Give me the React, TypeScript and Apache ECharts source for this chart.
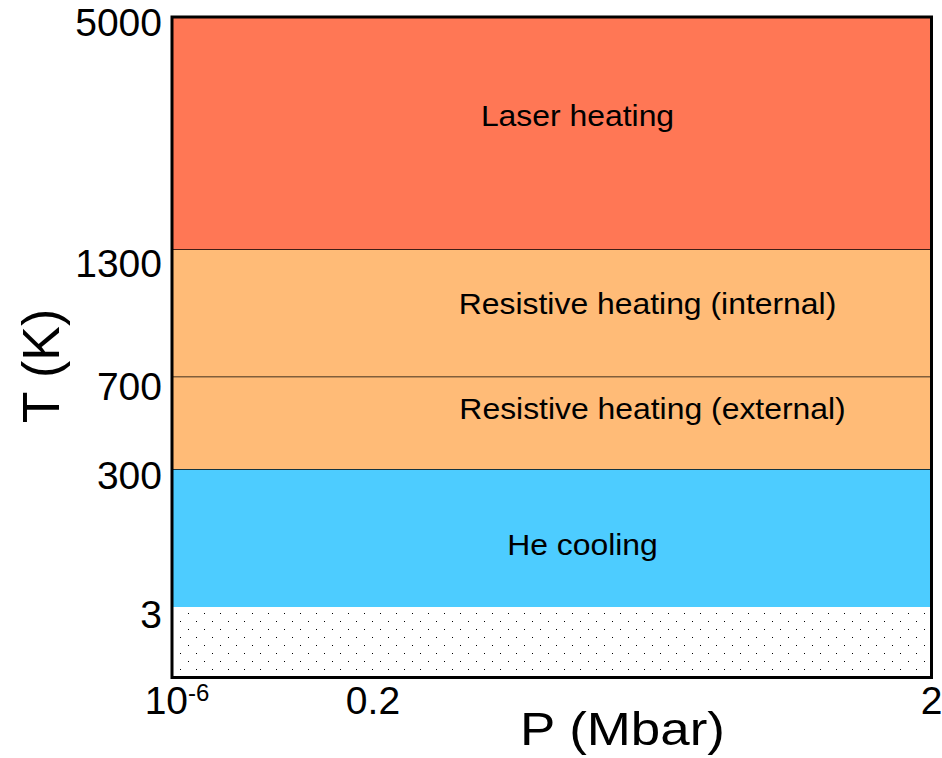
import React, { useEffect, useRef } from 'react';
import * as echarts from 'echarts';

// ---- Data -------------------------------------------------------------
// Temperature axis is schematic (not to scale): tick labels in K and where each sits on the axis (0–100)
const tempTickLabels = ['3', '300', '700', '1300', '5000'];
const tempTickK = [3, 300, 700, 1300, 5000];
const tempTickAxisPos = [10.67, 31.57, 45.57, 64.83, 100];

// Pressure axis is schematic too
const pressureTickLabels = ['10^-6', '0.2', '2'];
const pressureTickAxisPos = [0, 26.46, 100];

// Temperature regimes (K)
const regimeNames = ['', 'He cooling', 'Resistive heating (external)', 'Resistive heating (internal)', 'Laser heating'];
const regimeFromK = [0, 3, 300, 700, 1300];
const regimeToK = [3, 300, 700, 1300, 5000];

// ---- Styles / layout --------------------------------------------------
const regimeColors = ['dots', '#4DCCFF', '#FFBB77', '#FFBB77', '#FF7755'];
const regimeTopLine = [false, true, true, true, false];
const regimeLabelAt = [
  [0, 0],
  [54.05, 20.06],
  [63.27, 40.68],
  [62.61, 56.65],
  [53.39, 85.04],
];
const yLabelShift = [7, 7, 9.5, 14, 5.5];
const FONT = '"Liberation Sans", Arial, sans-serif';

const kToPos = (k: number) => (k === 0 ? 0 : tempTickAxisPos[tempTickK.indexOf(k)]);
const findIdx = (arr: number[], v: number) => arr.findIndex((a) => Math.abs(a - v) < 0.001);

export default function App() {
  const ref = useRef<HTMLDivElement>(null);

  useEffect(() => {
    if (!ref.current) return;
    const chart = echarts.init(ref.current, null, { renderer: 'svg' });

    const tile = document.createElement('canvas');
    tile.width = 16;
    tile.height = 16;
    const ctx = tile.getContext('2d')!;
    ctx.fillStyle = '#ffffff';
    ctx.fillRect(0, 0, 16, 16);
    ctx.fillStyle = '#000000';
    ctx.fillRect(12, 5, 1, 1);
    ctx.fillRect(4, 13, 1, 1);
    const dotFill: any = { image: tile, repeat: 'repeat' };

    const xMin = pressureTickAxisPos[0];
    const xMax = pressureTickAxisPos[pressureTickAxisPos.length - 1];
    const bandData = regimeNames.map((_, i) => [xMin, xMax, kToPos(regimeFromK[i]), kToPos(regimeToK[i]), i]);

    const yRich: any = {};
    tempTickLabels.forEach((_, i) => {
      yRich['l' + i] = {
        fontSize: 39,
        lineHeight: 39,
        fontFamily: FONT,
        color: '#000',
        padding: [yLabelShift[i] * 2, 0, 0, 0],
      };
    });

    const option: any = {
      animation: false,
      backgroundColor: '#ffffff',
      textStyle: { fontFamily: FONT },
      grid: {
        show: true,
        z: 10,
        left: 172,
        right: 10.5,
        top: 17,
        bottom: 80.5,
        containLabel: false,
        outerBoundsMode: 'none',
        borderColor: '#000',
        borderWidth: 3,
        backgroundColor: 'rgba(0,0,0,0)',
      },
      xAxis: {
        type: 'value',
        min: 0,
        max: 100,
        axisLine: { show: false },
        axisTick: { show: false },
        splitLine: { show: false },
        axisLabel: {
          customValues: pressureTickAxisPos,
          margin: 3,
          color: '#000',
          fontSize: 39,
          fontFamily: FONT,
          formatter: (v: number) => {
            const i = findIdx(pressureTickAxisPos, v);
            if (i < 0) return '';
            const lab = pressureTickLabels[i];
            if (lab.includes('^')) {
              const [b, e] = lab.split('^');
              return `{b|${b}}{s|${e}}`;
            }
            return `{n|${lab}}`;
          },
          rich: {
            n: { fontSize: 39, lineHeight: 39, fontFamily: FONT, color: '#000' },
            b: { fontSize: 39, lineHeight: 39, fontFamily: FONT, color: '#000', padding: [0, 0, 0, 10] },
            s: { fontSize: 24, lineHeight: 30, fontFamily: FONT, color: '#000', verticalAlign: 'top' },
          },
        },
      },
      yAxis: {
        type: 'value',
        min: 0,
        max: 100,
        axisLine: { show: false },
        axisTick: { show: false },
        splitLine: { show: false },
        axisLabel: {
          customValues: tempTickAxisPos,
          margin: 10,
          color: '#000',
          fontSize: 39,
          fontFamily: FONT,
          formatter: (v: number) => {
            const i = findIdx(tempTickAxisPos, v);
            if (i < 0) return '';
            return `{l${i}|${tempTickLabels[i]}}`;
          },
          rich: yRich,
        },
      },
      graphic: [
        {
          type: 'text',
          x: 41,
          y: 366,
          rotation: Math.PI / 2,
          style: {
            text: 'T (K)',
            font: `52px ${FONT}`,
            fill: '#000',
            align: 'center',
            verticalAlign: 'middle',
            textAlign: 'center',
            textVerticalAlign: 'middle',
          },
        },
        {
          type: 'text',
          x: 622.5,
          y: 729,
          scaleX: 1.15,
          style: {
            text: 'P (Mbar)',
            font: `46px ${FONT}`,
            fill: '#000',
            align: 'center',
            verticalAlign: 'middle',
            textAlign: 'center',
            textVerticalAlign: 'middle',
          },
        },
      ],
      series: [
        {
          type: 'custom',
          encode: { x: [0, 1], y: [2, 3] },
          data: bandData,
          renderItem: (params: any, api: any) => {
            const i = api.value(4);
            const tl = api.coord([api.value(0), api.value(3)]);
            const br = api.coord([api.value(1), api.value(2)]);
            const color = regimeColors[i];
            const children: any[] = [
              {
                type: 'rect',
                shape: { x: tl[0], y: tl[1], width: br[0] - tl[0], height: br[1] - tl[1] },
                style: { fill: color === 'dots' ? dotFill : color },
              },
            ];
            if (regimeTopLine[i]) {
              children.push({
                type: 'line',
                shape: { x1: tl[0], y1: tl[1], x2: br[0], y2: tl[1] },
                style: { stroke: '#000', lineWidth: 1.6 },
              });
            }
            const name = regimeNames[i];
            if (name) {
              const c = api.coord(regimeLabelAt[i]);
              children.push({
                type: 'text',
                x: c[0],
                y: c[1],
                scaleX: 1.1,
                style: {
                  text: name,
                  font: `29px ${FONT}`,
                  fill: '#000',
                  align: 'center',
                  verticalAlign: 'middle',
                  textAlign: 'center',
                  textVerticalAlign: 'middle',
                },
              });
            }
            return { type: 'group', children };
          },
        },
      ],
    };

    chart.setOption(option);
    return () => chart.dispose();
  }, []);

  return (
    <div
      ref={ref}
      style={{ position: 'fixed', left: 0, top: 0, width: 942, height: 758, background: '#fff' }}
    />
  );
}
